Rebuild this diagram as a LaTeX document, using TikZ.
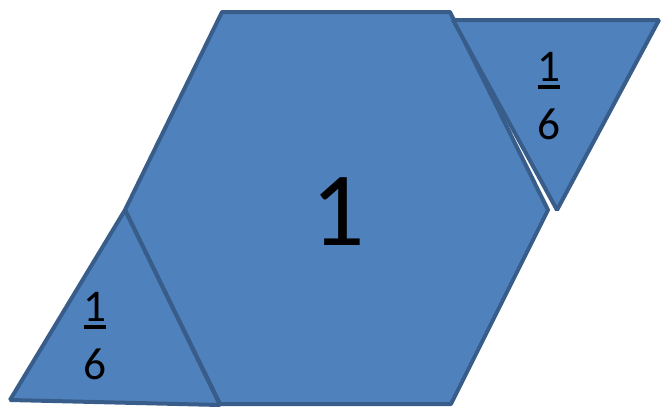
\documentclass[tikz,border=0pt]{standalone}
\usepackage{fontspec}
\setmainfont{Carlito}
\definecolor{shapefill}{HTML}{4F81BD}
\definecolor{shapeline}{HTML}{385D8A}
\newcommand{\barnum}[1]{\vtop{\hbox{#1}\kern0.09em\hrule height 0.075em}}

\begin{document}
\begin{tikzpicture}[x=0.75pt,y=-0.75pt,line width=3pt,line join=bevel,
  piece/.style={fill=shapefill,draw=shapeline},
  fraclabel/.style={align=center,font=\fontsize{34}{44}\selectfont,inner sep=0pt}]
\useasboundingbox (0,0) rectangle (661,407);

% hexagon
\draw[piece] (222,12) -- (450,12) -- (548,210) -- (451,404) -- (220,404) -- (125,210) -- cycle;
% the two sixths
\draw[piece] (453,20) -- (659,20) -- (557,210) -- cycle;
\draw[piece] (125,210) -- (10,400) -- (220,405) -- cycle;

\node[font=\fontsize{79}{90}\selectfont,inner sep=0pt,anchor=base] (whole) at (338,245) {1};
\node[fraclabel,anchor=north] (sixthright) at (549,50) {\barnum{1}\\6};
\node[fraclabel,anchor=north] (sixthleft) at (95,290) {\barnum{1}\\6};
\end{tikzpicture}
\end{document}
